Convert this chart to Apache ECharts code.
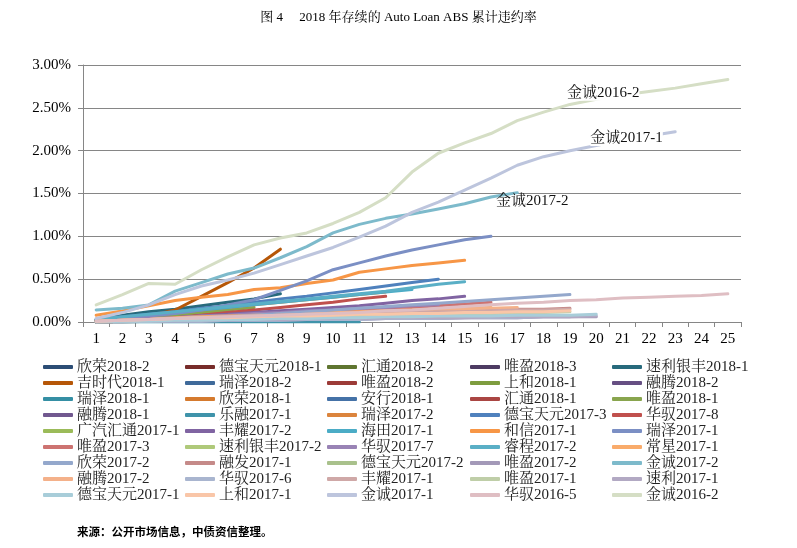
<!DOCTYPE html>
<html>
<head>
<meta charset="utf-8">
<script src="https://cdn.jsdelivr.net/npm/echarts@6/dist/echarts.min.js"></script>
<style>
html,body{margin:0;padding:0;background:#fff;}
#chart{width:797px;height:548px;}
</style>
</head>
<body>
<div id="chart"></div>
<script>
// ---------- DATA ----------
const categories = ['1','2','3','4','5','6','7','8','9','10','11','12','13','14','15','16','17','18','19','20','21','22','23','24','25'];
const titleText = '图 4\u3000 2018 年存续的 Auto Loan ABS 累计违约率';
const sourceText = '来源：公开市场信息，中债资信整理。';

const seriesNames = [
  '欣荣2018-2','德宝天元2018-1','汇通2018-2','唯盈2018-3','速利银丰2018-1',
  '吉时代2018-1','瑞泽2018-2','唯盈2018-2','上和2018-1','融腾2018-2',
  '瑞泽2018-1','欣荣2018-1','安行2018-1','汇通2018-1','唯盈2018-1',
  '融腾2018-1','乐融2017-1','瑞泽2017-2','德宝天元2017-3','华驭2017-8',
  '广汽汇通2017-1','丰耀2017-2','海田2017-1','和信2017-1','瑞泽2017-1',
  '唯盈2017-3','速利银丰2017-2','华驭2017-7','睿程2017-2','常星2017-1',
  '欣荣2017-2','融发2017-1','德宝天元2017-2','唯盈2017-2','金诚2017-2',
  '融腾2017-2','华驭2017-6','丰耀2017-1','唯盈2017-1','速利2017-1',
  '德宝天元2017-1','上和2017-1','金诚2017-1','华驭2016-5','金诚2016-2'
];

// cumulative default rate, in %
const xinrong2018_2   = [0.00,0.01,0.02];
const debao2018_1     = [0.00,0.01,0.02,0.03,0.05];
const huitong2018_2   = [0.00,0.00,0.01];
const weiying2018_3   = [0.00,0.02];
const sulyinfeng2018_1= [0.03,0.08,0.12,0.15,0.19,0.23,0.27,0.33];
const jishidai2018_1  = [0.01,0.03,0.07,0.14,0.30,0.46,0.63,0.85];
const ruize2018_2     = [0.01,0.03,0.05,0.06];
const weiying2018_2   = [0.01,0.04,0.07,0.10];
const shanghe2018_1   = [0.00,0.01,0.02,0.03,0.03,0.04];
const rongteng2018_2  = [0.00,0.01,0.02];
const ruize2018_1     = [0.02,0.05,0.08,0.11,0.14,0.17];
const xinrong2018_1   = [0.01,0.03,0.05,0.08,0.10,0.12];
const anxing2018_1    = [0.02,0.05,0.08,0.11,0.15,0.18];
const huitong2018_1   = [0.01,0.02,0.04,0.06,0.08,0.10,0.13];
const weiying2018_1   = [0.01,0.03,0.05,0.08,0.11,0.14,0.17];
const rongteng2018_1  = [0.00,0.01,0.02,0.03,0.04,0.05,0.06];
const lerong2017_1    = [0.00,0.00,0.00,0.00,0.00,0.00,0.00,0.00,0.00,0.00,0.00];
const ruize2017_2     = [0.02,0.05,0.08,0.11,0.14,0.17,0.20,0.23,0.26,0.29,0.32,0.35];
const debao2017_3     = [0.02,0.06,0.09,0.12,0.16,0.19,0.23,0.27,0.30,0.34,0.38,0.42,0.46,0.50];
const huayu2017_8     = [0.00,0.01,0.03,0.05,0.08,0.11,0.14,0.17,0.20,0.23,0.27,0.30];
const gqhuitong2017_1 = [0.00,0.01,0.02,0.03,0.04,0.05,0.06,0.07,0.08,0.09,0.10,0.11];
const fengyao2017_2   = [0.00,0.01,0.03,0.05,0.07,0.09,0.11,0.13,0.15,0.17,0.19,0.22,0.25,0.27,0.30];
const haitian2017_1   = [0.02,0.05,0.08,0.11,0.14,0.17,0.20,0.23,0.26,0.29,0.32,0.35,0.38];
const hexin2017_1     = [0.08,0.13,0.19,0.25,0.29,0.32,0.38,0.40,0.45,0.49,0.58,0.62,0.66,0.69,0.72];
const ruize2017_1     = [0.01,0.04,0.07,0.10,0.14,0.20,0.26,0.37,0.48,0.61,0.69,0.77,0.84,0.90,0.96,1.00];
const weiying2017_3   = [0.00,0.01,0.02,0.03,0.05,0.06,0.08,0.09,0.11,0.12,0.14,0.15,0.17,0.19,0.21,0.23];
const sulyinfeng2017_2= [0.00,0.01,0.02,0.03,0.04,0.05,0.06,0.07,0.07,0.08,0.09,0.10,0.11,0.12];
const huayu2017_7     = [0.01,0.02,0.04,0.05,0.07,0.08,0.10,0.11,0.13,0.14,0.16,0.17,0.19,0.20];
const ruicheng2017_2  = [0.03,0.06,0.09,0.12,0.15,0.18,0.21,0.24,0.27,0.30,0.33,0.36,0.40,0.44,0.47];
const changxing2017_1 = [0.01,0.02,0.03,0.05,0.06,0.07,0.08,0.09,0.10,0.11,0.12,0.13,0.14,0.15,0.16,0.17];
const xinrong2017_2   = [0.00,0.01,0.02,0.03,0.05,0.06,0.08,0.10,0.12,0.14,0.16,0.18,0.20,0.22,0.24,0.26,0.28,0.30,0.32];
const rongfa2017_1    = [0.00,0.01,0.02,0.03,0.04,0.05,0.06,0.07,0.08,0.09,0.10,0.11,0.12,0.13,0.13,0.14,0.15,0.15,0.16];
const debao2017_2     = [0.00,0.01,0.01,0.02,0.03,0.03,0.04,0.05,0.05,0.06,0.07,0.07,0.08,0.09,0.09,0.10,0.11,0.12];
const weiying2017_2   = [0.00,0.00,0.01,0.01,0.01,0.02,0.02,0.02,0.03,0.03,0.03,0.04,0.04,0.04,0.05,0.05,0.05,0.06,0.06,0.06];
const jincheng2017_2  = [0.14,0.16,0.20,0.36,0.46,0.56,0.63,0.75,0.88,1.04,1.14,1.21,1.26,1.32,1.38,1.46,1.51];
const rongteng2017_2  = [0.01,0.02,0.03,0.04,0.05,0.06,0.07,0.08,0.09,0.10,0.11,0.12,0.13,0.14,0.15,0.16,0.17];
const huayu2017_6     = [0.00,0.00,0.01,0.01,0.01,0.02,0.02,0.02,0.03,0.03,0.03,0.04,0.04,0.04,0.05,0.05,0.05,0.06,0.06];
const fengyao2017_1   = [0.01,0.02,0.03,0.04,0.05,0.06,0.07,0.08,0.08,0.09,0.10,0.11,0.11,0.12,0.12,0.13,0.14,0.14,0.15];
const weiying2017_1   = [0.00,0.01,0.02,0.02,0.03,0.04,0.04,0.05,0.06,0.06,0.07,0.08,0.08,0.09,0.10,0.10,0.11,0.11,0.12];
const suli2017_1      = [0.00,0.01,0.01,0.02,0.02,0.03,0.03,0.03,0.04,0.04,0.04,0.05,0.05,0.05,0.05,0.06,0.06,0.06,0.06,0.07];
const debao2017_1     = [0.00,0.01,0.01,0.02,0.02,0.03,0.03,0.04,0.04,0.05,0.05,0.06,0.06,0.07,0.07,0.07,0.08,0.08,0.08,0.09];
const shanghe2017_1   = [0.01,0.02,0.03,0.04,0.05,0.05,0.06,0.07,0.07,0.08,0.09,0.09,0.10,0.10,0.11,0.11,0.12,0.12,0.13];
const jincheng2017_1  = [0.04,0.11,0.20,0.32,0.42,0.49,0.57,0.67,0.77,0.87,0.99,1.12,1.28,1.40,1.54,1.68,1.83,1.93,2.00,2.06,2.12,2.17,2.22];
const huayu2016_5     = [0.01,0.02,0.03,0.04,0.05,0.06,0.07,0.08,0.09,0.10,0.11,0.13,0.14,0.16,0.18,0.20,0.22,0.23,0.25,0.26,0.28,0.29,0.30,0.31,0.33];
const jincheng2016_2  = [0.20,0.32,0.45,0.44,0.61,0.76,0.90,0.98,1.04,1.15,1.28,1.45,1.75,1.97,2.09,2.20,2.35,2.45,2.54,2.60,2.65,2.69,2.73,2.78,2.83];

const seriesValues = [
  xinrong2018_2, debao2018_1, huitong2018_2, weiying2018_3, sulyinfeng2018_1,
  jishidai2018_1, ruize2018_2, weiying2018_2, shanghe2018_1, rongteng2018_2,
  ruize2018_1, xinrong2018_1, anxing2018_1, huitong2018_1, weiying2018_1,
  rongteng2018_1, lerong2017_1, ruize2017_2, debao2017_3, huayu2017_8,
  gqhuitong2017_1, fengyao2017_2, haitian2017_1, hexin2017_1, ruize2017_1,
  weiying2017_3, sulyinfeng2017_2, huayu2017_7, ruicheng2017_2, changxing2017_1,
  xinrong2017_2, rongfa2017_1, debao2017_2, weiying2017_2, jincheng2017_2,
  rongteng2017_2, huayu2017_6, fengyao2017_1, weiying2017_1, suli2017_1,
  debao2017_1, shanghe2017_1, jincheng2017_1, huayu2016_5, jincheng2016_2
];

// ---------- STYLE ----------
const colors = [
  '#2C4D75','#772C2A','#5F7530','#4D3B62','#276A7C',
  '#B65708','#3F6A9A','#9C3B38','#7E9D3F','#664F83',
  '#358FA4','#D57A2E','#4572A7','#AA4643','#89A54E',
  '#71588F','#3F93AA','#DB843D','#4F81BD','#C0504D',
  '#9BBB59','#8064A2','#4BACC6','#F79646','#7B8FC4',
  '#CD7371','#AFC97A','#9983B5','#5AAFC6','#F9AB6B',
  '#94A8CC','#C58A89','#A9C18C','#A399B8','#7DBACB',
  '#F4B18A','#A9B5CF','#CFA8A7','#BFCEA8','#B2A9C3',
  '#A8CDD9','#F9C6A8','#BDC5DD','#DFBEC3','#D5DEC5'
];
// point labels: series name -> [category index, offset, white background]
const pointLabels = {
  '金诚2016-2': [19, [7, -6], true],
  '金诚2017-1': [20, [4, -2], true],
  '金诚2017-2': [16, [15, 8], false]
};

const serif = "'Liberation Serif','Times New Roman','Noto Serif CJK SC','Noto Sans CJK SC',serif";

const series = seriesNames.map((name, i) => {
  const data = seriesValues[i].map((v, j) => {
    const pl = pointLabels[name];
    if (pl && pl[0] === j) {
      return {
        value: v,
        label: {
          show: true, position: 'inside', offset: pl[1],
          formatter: name, fontSize: 15, color: '#111',
          fontFamily: serif, backgroundColor: pl[2] ? '#fff' : 'transparent', padding: [0, 0]
        }
      };
    }
    return v;
  });
  return {
    name: name, type: 'line', data: data,
    symbol: 'circle', symbolSize: 0, showSymbol: true,
    lineStyle: { width: 3, color: colors[i], cap: 'round', join: 'round' },
    itemStyle: { color: colors[i] },
    label: { show: false },
    emphasis: { disabled: true }, silent: true
  };
});

const legendLefts = [43, 185, 327, 470, 612];
const legends = legendLefts.map((left, c) => ({
  orient: 'vertical', left: left, top: 359, padding: 0,
  data: seriesNames.filter((n, i) => i % 5 === c),
  icon: 'roundRect', itemWidth: 30, itemHeight: 4, itemGap: 0,
  textStyle: { fontSize: 15, lineHeight: 16, color: '#222', fontFamily: serif, padding: [0, 0, 0, -1] },
  selectedMode: false
}));

const chart = echarts.init(document.getElementById('chart'), null, { renderer: 'canvas' });
chart.setOption({
  animation: false,
  backgroundColor: '#fff',
  title: [
    { text: titleText, left: 'center', top: 6,
      textStyle: { fontSize: 13, fontWeight: 'normal', color: '#000', fontFamily: serif } },
    { text: sourceText, left: 72, top: 521,
      textStyle: { fontSize: 11.5, fontWeight: 'bold', color: '#000', fontFamily: "'Noto Sans CJK SC',sans-serif" } }
  ],
  legend: legends,
  grid: { left: 83, right: 56, top: 65, bottom: 226, containLabel: false },
  xAxis: {
    type: 'category', data: categories, boundaryGap: true,
    axisLine: { show: true, lineStyle: { color: '#868686', width: 1 } },
    axisTick: { show: true, alignWithLabel: false, interval: 0, length: 5, lineStyle: { color: '#868686' } },
    axisLabel: { interval: 0, fontSize: 15, color: '#000', margin: 10, fontFamily: serif },
    splitLine: { show: false }
  },
  yAxis: {
    type: 'value', min: 0, max: 3, interval: 0.5,
    axisLine: { show: true, lineStyle: { color: '#868686', width: 1 } },
    axisTick: { show: true, length: 5, lineStyle: { color: '#868686' } },
    axisLabel: { fontSize: 15, color: '#000', margin: 12, fontFamily: serif,
      formatter: v => v.toFixed(2) + '%' },
    splitLine: { show: true, lineStyle: { color: '#868686', width: 1 } }
  },
  series: series
});
</script>
</body>
</html>
